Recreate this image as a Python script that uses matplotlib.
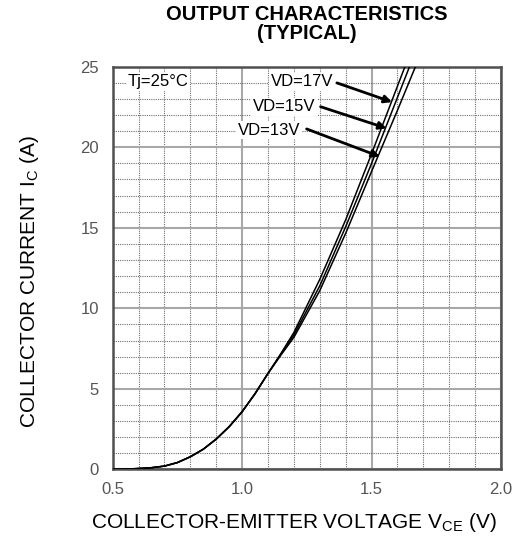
import matplotlib
matplotlib.use("Agg")
import matplotlib.pyplot as plt
from matplotlib.ticker import MultipleLocator

plt.rcParams['font.family'] = ['Liberation Sans', 'DejaVu Sans']

# shared low-current part of all three curves
v_low = [0.5, 0.55, 0.6, 0.65, 0.7, 0.75, 0.8, 0.85, 0.9, 0.95, 1.0, 1.05, 1.1]
i_low = [0.0, 0.01, 0.05, 0.1, 0.2, 0.42, 0.78, 1.25, 1.88, 2.65, 3.58, 4.7, 5.96]

# upper part, one per gate drive voltage
v_high = [1.15, 1.2, 1.3, 1.4, 1.5, 1.6, 1.7]
i_vd17 = [7.2, 8.5, 11.8, 15.5, 19.6, 23.8, 28.0]
i_vd15 = [7.15, 8.35, 11.4, 15.07, 19.0, 23.1, 27.2]
i_vd13 = [7.1, 8.2, 11.1, 14.66, 18.5, 22.3, 26.2]

labels = ['VD=17V', 'VD=15V', 'VD=13V']
label_xy = [(1.231, 24.07), (1.162, 22.52), (1.104, 21.07)]
arrow_tail = [(1.366, 24.0), (1.303, 22.52), (1.249, 21.14)]
arrow_head = [(1.579, 22.81), (1.558, 21.18), (1.532, 19.42)]

fig = plt.figure(figsize=(5.16, 5.36), dpi=100)
ax = fig.add_axes([0.2184, 0.1244, 0.7526, 0.751])

for curve in [i_vd17, i_vd15, i_vd13]:
    ax.plot(v_low + v_high, i_low + curve, color='black', lw=1.1, zorder=3)

ax.set_xlim(0.5, 2.0)
ax.set_ylim(0, 25)
ax.xaxis.set_major_locator(MultipleLocator(0.5))
ax.xaxis.set_minor_locator(MultipleLocator(0.1))
ax.yaxis.set_major_locator(MultipleLocator(5))
ax.yaxis.set_minor_locator(MultipleLocator(1))
ax.xaxis.set_major_formatter(matplotlib.ticker.FormatStrFormatter('%.1f'))
ax.grid(which='major', color='#a8a8a8', lw=1.5, ls='-')
ax.grid(which='minor', color='#707070', lw=0.8, ls=(0, (1, 1)))
ax.set_axisbelow(True)
ax.tick_params(which='both', length=0, labelsize=12, labelcolor='#555555')
ax.tick_params(axis='x', pad=9)
ax.tick_params(axis='y', pad=10)
for s in ax.spines.values():
    s.set_color('#505050')
    s.set_linewidth(1.8)

ax.text(0.559, 24.07, 'Tj=25°C', fontsize=12, va='center', ha='left',
        bbox=dict(facecolor='white', edgecolor='none', pad=1))
for lab, xy, tail, head in zip(labels, label_xy, arrow_tail, arrow_head):
    ax.text(xy[0], xy[1], lab, fontsize=12, va='center', ha='center',
            bbox=dict(facecolor='white', edgecolor='none', pad=1), zorder=4)
    ax.annotate('', xy=head, xytext=tail,
                arrowprops=dict(arrowstyle='-|>', color='black', lw=2,
                                mutation_scale=11, shrinkA=0, shrinkB=0), zorder=4)

ax.set_title('OUTPUT CHARACTERISTICS\n(TYPICAL)', fontsize=14.5, fontweight='bold',
             linespacing=1.0, pad=20)
ax.set_xlabel(r'COLLECTOR-EMITTER VOLTAGE V$_\mathregular{CE}$ (V)', fontsize=15, va='center')
ax.set_ylabel(r'COLLECTOR CURRENT I$_\mathregular{C}$ (A)', fontsize=15, va='center')
ax.xaxis.set_label_coords(0.466, -0.133)
ax.yaxis.set_label_coords(-0.215, 0.465)

fig.savefig('out.png', dpi=100)
